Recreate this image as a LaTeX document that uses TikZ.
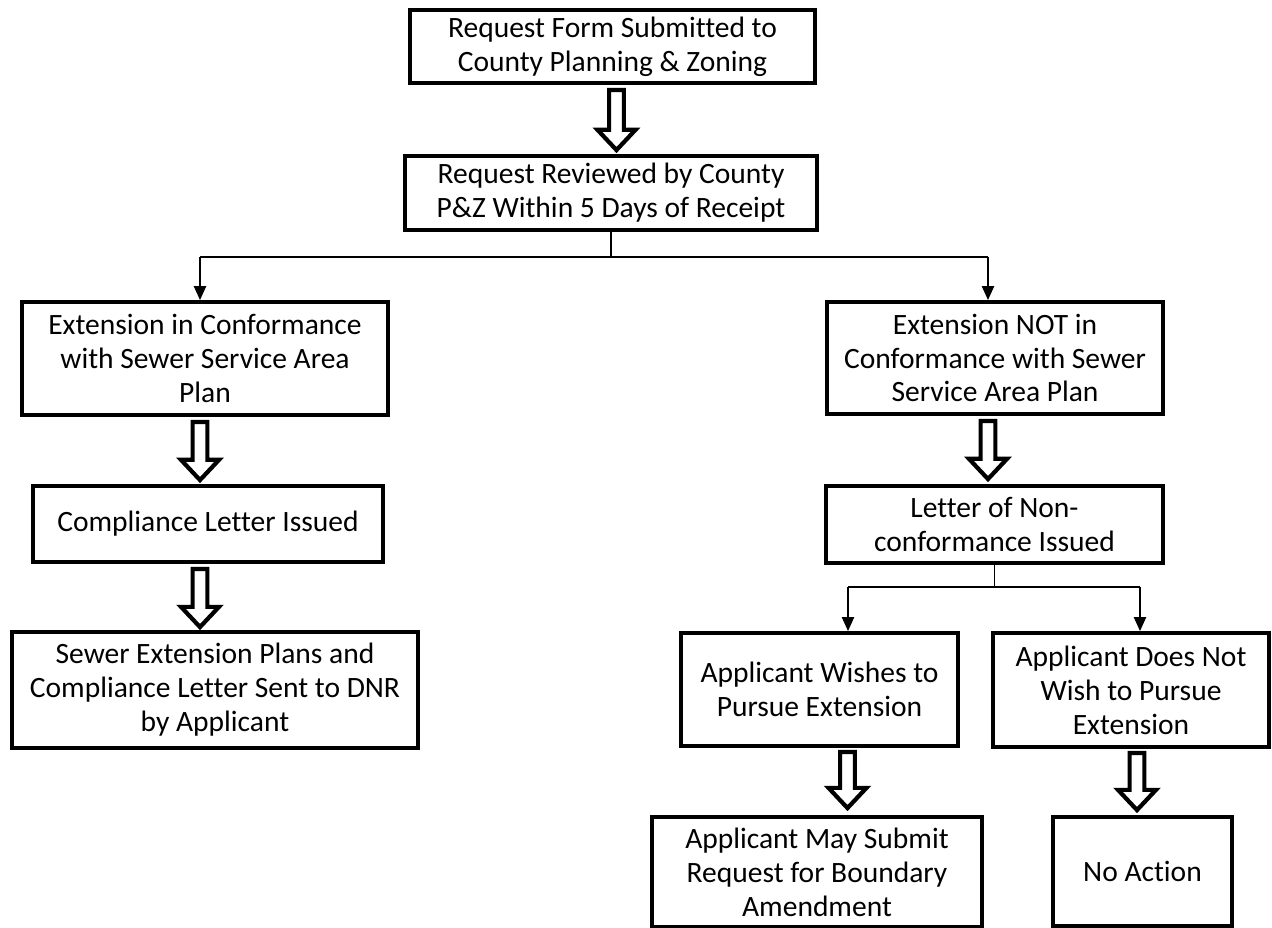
\documentclass[tikz,border=0pt]{standalone}
\usepackage{fontspec}
\setmainfont{Carlito}[Ligatures={NoCommon}, Contextuals={NoAlternate}]
\usepackage{tikz}
\usetikzlibrary{arrows.meta,calc}

\newcommand{\boxfont}{\fontsize{16.8}{19.3}\selectfont}
% hollow block arrow from #1 straight down to #2
\newcommand{\hollowarrow}[2]{%
  \draw[hollowarr] let \p1=(#1), \p2=(#2) in
    (\x1-4.2pt,\y1) -- (\x1+4.2pt,\y1) -- (\x1+4.2pt,\y2+11.5pt) -- (\x1+10.8pt,\y2+11.5pt)
    -- (\x1,\y2) -- (\x1-10.8pt,\y2+11.5pt) -- (\x1-4.2pt,\y2+11.5pt) -- cycle;}

\tikzset{
  box/.style={draw, line width=2.2pt, align=center, inner sep=0pt, font=\boxfont},
  hollowarr/.style={draw, line width=2.4pt, fill=white, line join=miter},
  link/.style={line width=0.9pt, -{Triangle[length=8pt,width=7pt]}},
  stem/.style={line width=0.9pt}
}

\begin{document}
\begin{tikzpicture}[x=0.02cm,y=-0.02cm]
  \useasboundingbox (0,0) rectangle (1272,928);

  \node[box, minimum width=405*0.02cm, minimum height=73*0.02cm] (submit) at (612.5,46.5)
    {Request Form Submitted to\\County Planning \& Zoning};
  \node[box, minimum width=412*0.02cm, minimum height=74*0.02cm] (review) at (611,193)
    {Request Reviewed by County\\P\&Z Within 5 Days of Receipt};

  \node[box, minimum width=366*0.02cm, minimum height=113*0.02cm] (conform) at (205,358.5)
    {Extension in Conformance\\with Sewer Service Area\\Plan};
  \node[box, minimum width=350*0.02cm, minimum height=76*0.02cm] (comply) at (208,524)
    {Compliance Letter Issued};
  \node[box, minimum width=406*0.02cm, minimum height=116*0.02cm] (todnr) at (215,690)
    {Sewer Extension Plans and\\Compliance Letter Sent to DNR\\by Applicant};

  \node[box, minimum width=336*0.02cm, minimum height=112*0.02cm] (notconform) at (995,358)
    {Extension NOT in\\Conformance with Sewer\\Service Area Plan};
  \node[box, minimum width=337*0.02cm, minimum height=77*0.02cm] (nonletter) at (994.5,524.5)
    {Letter of Non-\\conformance Issued};
  \node[box, minimum width=277*0.02cm, minimum height=113*0.02cm] (pursue) at (819.5,689.5)
    {Applicant Wishes to\\Pursue Extension};
  \node[box, minimum width=276*0.02cm, minimum height=114*0.02cm] (nopursue) at (1131,690)
    {Applicant Does Not\\Wish to Pursue\\Extension};
  \node[box, minimum width=330*0.02cm, minimum height=110*0.02cm] (amend) at (817,872)
    {Applicant May Submit\\Request for Boundary\\Amendment};
  \node[box, minimum width=179*0.02cm, minimum height=109*0.02cm] (noaction) at (1142.5,871.5)
    {No Action};

  % split below the review box
  \coordinate (split) at (611,257);
  \coordinate (splitL) at (200,257);
  \coordinate (splitR) at (988,257);
  \draw[stem] (review.south) -- (split);
  \draw[stem] (splitL) -- (splitR);
  \draw[link] (splitL) -- (splitL |- conform.north);
  \draw[link] (splitR) -- (splitR |- notconform.north);

  % split below the non-conformance letter
  \coordinate (fork) at (994.5,587);
  \coordinate (forkL) at (848,587);
  \coordinate (forkR) at (1140,587);
  \draw[stem] (nonletter.south) -- (fork);
  \draw[stem] (forkL) -- (forkR);
  \draw[link] (forkL) -- (forkL |- pursue.north);
  \draw[link] (forkR) -- (forkR |- nopursue.north);

  % block arrows
  \hollowarrow{$(submit.south)+(4,5)$}{$(review.north)+(4,-4)$}
  \hollowarrow{$(conform.south)+(-5,5)$}{$(comply.north)+(-8,-4)$}
  \hollowarrow{$(comply.south)+(-8,5)$}{$(todnr.north)+(-15,-3)$}
  \hollowarrow{$(notconform.south)+(-7,5)$}{$(nonletter.north)+(-7,-5)$}
  \hollowarrow{$(pursue.south)+(28,4)$}{$(amend.north)+(30,-7)$}
  \hollowarrow{$(nopursue.south)+(6,4)$}{$(noaction.north)+(-5,-5)$}
\end{tikzpicture}
\end{document}
